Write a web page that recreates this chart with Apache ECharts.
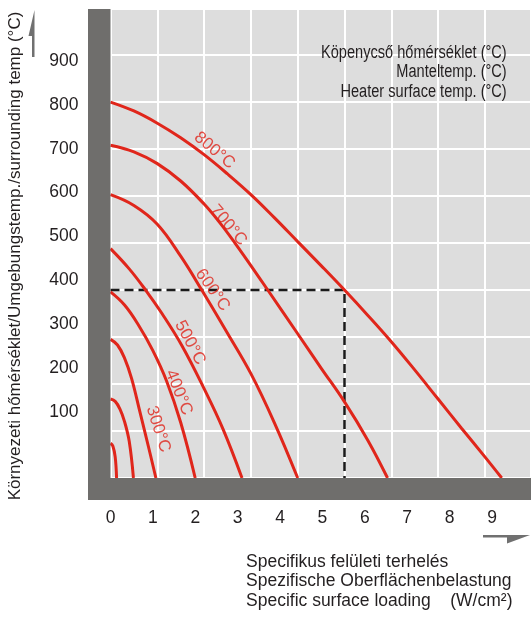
<!DOCTYPE html>
<html><head><meta charset="utf-8">
<script src="https://cdn.jsdelivr.net/npm/echarts@6/dist/echarts.min.js"></script>
<style>html,body{margin:0;padding:0;background:#fff}#c{width:531px;height:619px}</style>
</head><body><div id="c"></div>
<script>
// ---- data (x: W/cm2 in grid units, y: °C in grid units) ----
const xTickLabels = [0,1,2,3,4,5,6,7,8,9];
const yTickLabels = [100,200,300,400,500,600,700,800,900];
const heaterLabels = ['800°C','700°C','600°C','500°C','400°C','300°C'];
const curve800 = [[0,800],[0.5,781],[1,755],[1.5,724],[2,688],[2.5,647],[3,603],[3.5,554],[4,503],[4.5,452],[5,400],[5.5,346],[6,290],[6.5,230],[7,168],[7.5,106],[8,45],[8.36,0]];
const curve700 = [[0,708],[0.5,694],[1,669],[1.5,632],[2,583],[2.33,544],[2.66,500],[3,452],[3.36,400],[4,307],[4.5,234],[5,162],[5.5,80],[5.92,0]];
const curve600 = [[0,603],[0.5,580],[1,540],[1.5,472],[1.95,400],[2.5,308],[3,222],[3.5,118],[4,0]];
const curve500 = [[0,488],[0.4,445],[0.75,400],[1.1,350],[1.53,281],[2,190],[2.4,105],[2.81,0]];
const curve400 = [[0,396],[0.3,368],[0.6,325],[0.9,272],[1.2,206],[1.5,118],[1.81,0]];
const curve300 = [[0,295],[0.15,283],[0.3,255],[0.45,212],[0.63,140],[0.81,67],[0.97,0]];
const curve200 = [[0,168],[0.1,163],[0.2,147],[0.3,120],[0.4,78],[0.49,0]];
const curve100 = [[0,74],[0.05,68],[0.1,45],[0.13,0]];
const guideLine = [[0,400],[5,400],[5,0]];
const labelAnchors = [[2.22,697],[2.52,538],[2.18,400],[1.70,288],[1.46,182],[1.02,104]];

// ---- layout / style ----
const FONT = "'Liberation Sans', Arial, sans-serif";
const RED = '#e0261b';
const GRAY = '#6f6e6c';
const TXT = '#231f20';
const G = {left:110.5, right:0, top:9, bottom:141};
const labelAngles = [-40,-50,-55,-62,-68,-72];

const chart = echarts.init(document.getElementById('c'), null, {renderer:'canvas'});
const curves = [curve800,curve700,curve600,curve500,curve400,curve300,curve200,curve100];

const series = [];
series.push({type:'line', data:guideLine, xAxisIndex:0, yAxisIndex:0, symbol:'none', z:3,
  lineStyle:{color:'#1a1a1a', width:2.5, type:[9,5]}, silent:true});
curves.forEach(c => series.push({type:'line', data:c, xAxisIndex:0, yAxisIndex:0, symbol:'none', smooth:0.4, z:4,
  lineStyle:{color:RED, width:3}, silent:true}));
series.push({type:'scatter', xAxisIndex:0, yAxisIndex:0, symbolSize:1, z:5, silent:true,
  itemStyle:{color:'transparent'},
  data: labelAnchors.map((p,i)=>({value:p, label:{show:true, position:'inside', rotate:labelAngles[i],
    formatter:heaterLabels[i], color:RED, fontSize:17, fontFamily:FONT}}))});

const option = {
  animation:false,
  backgroundColor:'#ffffff',
  grid:{left:G.left, right:G.right, top:G.top, bottom:G.bottom, show:true, backgroundColor:'#dddddd', borderWidth:0},
  xAxis:[
    {type:'value', min:0, max:8.985, interval:1, position:'bottom',
     axisLine:{show:false}, axisTick:{show:false}, axisLabel:{show:false},
     splitLine:{show:true, lineStyle:{color:'#ffffff', width:2}}},
    {type:'value', min:0, max:9.92, position:'bottom', axisLine:{show:false, onZero:false}, axisTick:{show:false},
     splitLine:{show:false},
     axisLabel:{show:true, customValues:xTickLabels, margin:31, color:TXT, fontSize:17.5, fontFamily:FONT}}
  ],
  yAxis:[
    {type:'value', min:0, max:998, interval:100, position:'left',
     axisLine:{show:false}, axisTick:{show:false}, axisLabel:{show:false},
     splitLine:{show:true, lineStyle:{color:'#ffffff', width:2}}},
    {type:'value', min:-51.2, max:1018.6, position:'left', axisLine:{show:false, onZero:false}, axisTick:{show:false},
     splitLine:{show:false},
     axisLabel:{show:true, customValues:yTickLabels, margin:32, color:TXT, fontSize:17.5, fontFamily:FONT}}
  ],
  series: series,
  graphic:[
    {type:'rect', shape:{x:88, y:9, width:22.5, height:491}, style:{fill:GRAY}, z:10},
    {type:'rect', shape:{x:88, y:478, width:443, height:22}, style:{fill:GRAY}, z:10},
    {type:'polygon', shape:{points:[[34.5,10],[28.5,36],[32,36],[32,57],[34.5,57]]}, style:{fill:'#707070'}, z:10},
    {type:'polygon', shape:{points:[[483,535],[530,535],[507,543.5],[507,537.5],[483,537.5]]}, style:{fill:'#707070'}, z:10},
    {type:'text', x:15, y:256, rotation:Math.PI/2, z:10,
     style:{text:'Környezeti hőmérséklet/Umgebungstemp./surrounding temp (°C)', x:0, y:0, align:'center', verticalAlign:'middle',
       font:'17px ' + FONT, fill:TXT}},
    {type:'text', x:506.7, y:43.25, scaleX:0.81, z:10,
     style:{text:'Köpenycső hőmérséklet (°C)\nManteltemp. (°C)\nHeater surface temp. (°C)', x:0, y:0, align:'right', verticalAlign:'top',
       lineHeight:19.5, font:'18px ' + FONT, fill:TXT}},
    {type:'text', x:246, y:552.25, z:10,
     style:{text:'Specifikus felületi terhelés\nSpezifische Oberflächenbelastung\nSpecific surface loading    (W/cm²)', x:0, y:0, align:'left', verticalAlign:'top',
       lineHeight:19.5, font:'17.5px ' + FONT, fill:TXT}}
  ]
};
chart.setOption(option);
</script></body></html>
